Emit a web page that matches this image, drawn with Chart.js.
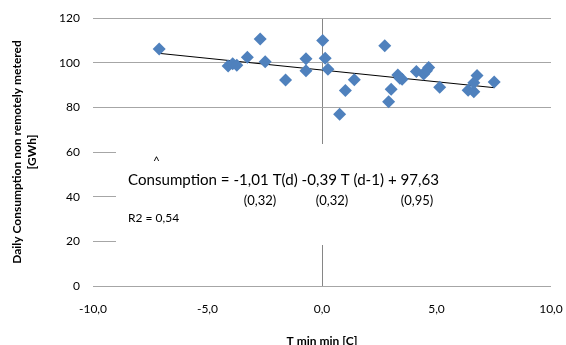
<!DOCTYPE html>
<html>
<head>
<meta charset="utf-8">
<script src="https://cdn.jsdelivr.net/npm/chart.js@4"></script>
<style>
  html, body { margin: 0; padding: 0; background: #fff; }
  #wrap { width: 566px; height: 345px; }
</style>
</head>
<body>
<div id="wrap"><canvas id="myChart" width="566" height="345"></canvas></div>
<script>
// T min min [C] vs daily consumption [GWh]
const tempValues = [-7.11, -4.10, -3.90, -3.72, -3.26, -2.70, -2.48, -1.59, -0.70, -0.70,
  0.03, 0.14, 0.26, 1.02, 0.77, 1.41, 2.74, 3.02, 2.91, 3.31, 3.50, 3.40,
  4.12, 4.44, 4.66, 4.56, 5.14, 6.38, 6.63, 6.63, 6.77, 7.52];
const consumptionValues = [106.1, 98.5, 99.5, 98.8, 102.4, 110.6, 100.4, 92.2, 101.7, 96.4,
  109.9, 102.0, 97.0, 87.5, 76.9, 92.3, 107.6, 88.1, 82.5, 94.5, 92.6, 93.0,
  96.0, 94.9, 97.8, 96.4, 89.0, 87.6, 87.0, 91.0, 94.3, 91.3];

// linear trend line end points
const trendX = [-7.14, 7.52];
const trendY = [104.2, 88.8];

const xTicks = [-10, -5, 0, 5, 10];
const yTicks = [0, 20, 40, 60, 80, 100, 120];

const FONT = "Lato, 'Open Sans', sans-serif";

// equation text box drawn over the plot
const eqBox = {
  id: 'eqBox',
  beforeDatasetsDraw(chart) {
    const ctx = chart.ctx;
    const a = chart.chartArea;
    ctx.save();
    ctx.fillStyle = '#fff';
    ctx.fillRect(116, 144, a.right - 116 + 1, 101);
    ctx.fillStyle = '#000';
    ctx.textBaseline = 'middle';
    ctx.textAlign = 'left';
    ctx.font = '12px ' + FONT;
    ctx.fillText('^', 153, 161);
    ctx.font = '16px ' + FONT;
    ctx.fillText('Consumption = -1,01 T(d) -0,39 T (d-1) + 97,63', 128, 180, 311);
    ctx.font = '13px ' + FONT;
    ctx.textAlign = 'center';
    ctx.fillText('(0,32)', 260, 201);
    ctx.fillText('(0,32)', 332, 201);
    ctx.fillText('(0,95)', 417, 201);
    ctx.textAlign = 'left';
    ctx.font = '12px ' + FONT;
    ctx.fillText('R2 = 0,54', 128, 218);
    ctx.restore();
  }
};

function initChart() {
  const ctx = document.getElementById('myChart').getContext('2d');
  return new Chart(ctx, {
    type: 'scatter',
    data: {
      datasets: [{
        label: 'Consumption',
        data: tempValues.map((t, i) => ({ x: t, y: consumptionValues[i] })),
        pointStyle: 'rectRot',
        pointRadius: 6.5,
        backgroundColor: '#4f81bd',
        borderColor: '#4f81bd',
        borderWidth: 0
      }, {
        label: 'Trend',
        type: 'line',
        data: trendX.map((t, i) => ({ x: t, y: trendY[i] })),
        borderColor: '#000',
        borderWidth: 1,
        pointRadius: 0,
        fill: false
      }]
    },
    options: {
      responsive: false,
      animation: false,
      layout: { padding: { left: 0, right: 15, top: 18, bottom: 0 } },
      plugins: { legend: { display: false }, tooltip: { enabled: false } },
      scales: {
        x: {
          type: 'linear',
          min: -10, max: 10,
          afterBuildTicks: s => { s.ticks = xTicks.map(v => ({ value: v })); },
          afterFit: s => { s.height = 59; s.paddingLeft = 0; s.paddingRight = 0; },
          border: { display: false },
          grid: {
            drawTicks: false,
            color: c => c.tick && c.tick.value === 0 ? '#868686' : 'transparent'
          },
          ticks: {
            padding: 16,
            color: '#000',
            font: { family: FONT, size: 12 },
            callback: v => v.toFixed(1).replace('.', ',')
          },
          title: {
            display: true,
            text: 'T min min [C]',
            color: '#000',
            font: { family: FONT, size: 12, weight: 'bold' },
            padding: { top: 0, bottom: -3 }
          }
        },
        y: {
          min: 0, max: 120,
          afterBuildTicks: s => { s.ticks = yTicks.map(v => ({ value: v })); },
          afterFit: s => { s.width = 93; s.paddingTop = 0; s.paddingBottom = 0; },
          border: { display: false },
          grid: { drawTicks: false, color: '#a6a6a6' },
          ticks: {
            padding: 13,
            color: '#000',
            font: { family: FONT, size: 12 }
          },
          title: {
            display: true,
            text: ['Daily Consumption non remotely metered', '[GWh]'],
            color: '#000',
            font: { family: FONT, size: 12, weight: 'bold', lineHeight: 1.25 },
            padding: { top: 10, bottom: 0 }
          }
        }
      }
    },
    plugins: [eqBox]
  });
}

const chart = initChart();
</script>
</body>
</html>
